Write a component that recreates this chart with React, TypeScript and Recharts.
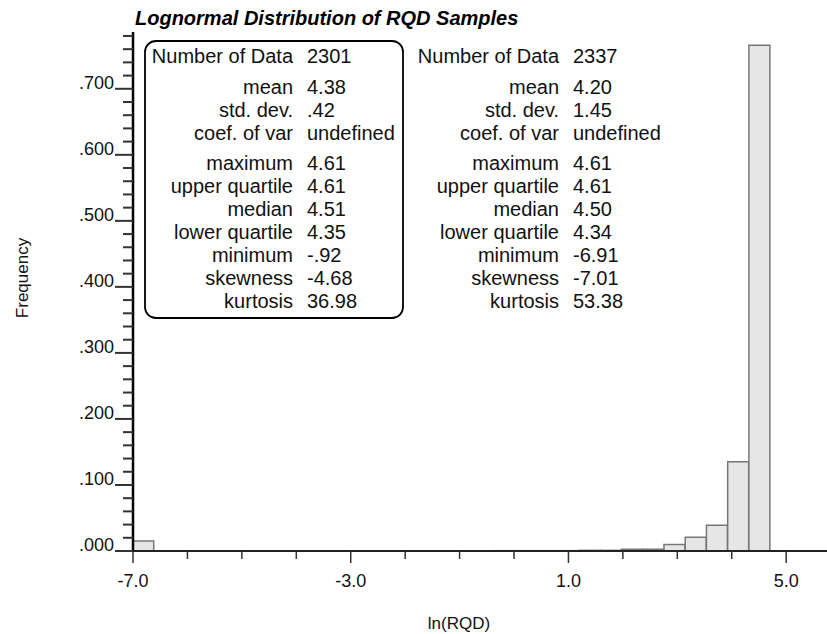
import React from "react";
import { BarChart, Bar, XAxis, YAxis } from "recharts";

// histogram bins of ln(RQD), width 0.39
const binCenters = [
  -6.81, -6.42, -6.03, -5.64, -5.25, -4.86, -4.47, -4.08, -3.69, -3.3,
  -2.91, -2.52, -2.13, -1.74, -1.35, -0.96, -0.57, -0.18, 0.21, 0.6,
  1.0, 1.39, 1.78, 2.17, 2.56, 2.95, 3.34, 3.73, 4.12, 4.51,
];
const frequency = [
  0.015, 0, 0, 0, 0, 0, 0, 0, 0, 0,
  0, 0, 0, 0, 0, 0, 0, 0.0005, 0.0005, 0.0005,
  0.0005, 0.001, 0.001, 0.0025, 0.0025, 0.01, 0.021, 0.039, 0.135, 0.766,
];

const xTicks = [-7, -6, -5, -4, -3, -2, -1, 0, 1, 2, 3, 4, 5];
const xMajorTicks = [-7, -3, 1, 5];
const xMajorLabels = ["-7.0", "-3.0", "1.0", "5.0"];
const yMajorLabels = [".000", ".100", ".200", ".300", ".400", ".500", ".600", ".700"];

const statLabels = [
  "Number of Data", "mean", "std. dev.", "coef. of var", "maximum",
  "upper quartile", "median", "lower quartile", "minimum", "skewness", "kurtosis",
];
const statsLeft = ["2301", "4.38", ".42", "undefined", "4.61", "4.61", "4.51", "4.35", "-.92", "-4.68", "36.98"];
const statsRight = ["2337", "4.20", "1.45", "undefined", "4.61", "4.61", "4.50", "4.34", "-6.91", "-7.01", "53.38"];

const data = binCenters.map((c, i) => ({ x: c, f: frequency[i] }));

const FONT = "'Liberation Sans', Arial, Helvetica, sans-serif";
const AXIS_X = 133;
const BASE_Y = 551;
const rowY = [63, 94, 117, 140, 170, 193, 216, 239, 262, 285, 308];

// minor ticks every .020
const yTicks = Array.from({ length: 40 }, (_, i) => (i * 2) / 100);

const YTick = (props: any) => {
  const { y, index } = props;
  const major = index % 5 === 0 && index / 5 < yMajorLabels.length;
  return (
    <g>
      <line x1={AXIS_X - (major ? 18 : 10)} x2={AXIS_X} y1={y} y2={y} stroke="#333" strokeWidth={2} />
      {major && (
        <text x={114} y={y} textAnchor="end" fontSize={18} fontFamily={FONT} fill="#111">
          {yMajorLabels[index / 5]}
        </text>
      )}
    </g>
  );
};

const XTick = (props: any) => {
  const { x, payload } = props;
  const k = xMajorTicks.indexOf(payload.value);
  const major = k >= 0;
  return (
    <g>
      <line x1={x} x2={x} y1={BASE_Y} y2={BASE_Y + (major ? 12 : 8)} stroke="#333" strokeWidth={1.5} />
      {major && (
        <text x={x} y={BASE_Y + 36} textAnchor="middle" fontSize={18} fontFamily={FONT} fill="#111">
          {xMajorLabels[k]}
        </text>
      )}
    </g>
  );
};

const StatColumn = ({ labelX, values }: { labelX: number; values: string[] }) => (
  <g fontFamily={FONT} fontSize={20} fill="#111">
    {statLabels.map((l, i) => (
      <React.Fragment key={l}>
        <text x={labelX} y={rowY[i]} textAnchor="end">{l}</text>
        <text x={labelX + 14} y={rowY[i]}>{values[i]}</text>
      </React.Fragment>
    ))}
  </g>
);

export default function App() {
  return (
    <div style={{ position: "absolute", left: 0, top: 0, width: 827, height: 634, background: "#fff" }}>
      <BarChart
        width={827}
        height={634}
        data={data}
        margin={{ top: 32, right: 0, left: 0, bottom: 43 }}
        barCategoryGap={0}
        barGap={0}
      >
        <XAxis
          dataKey="x"
          type="number"
          domain={[-7, 5.75]}
          allowDataOverflow
          ticks={xTicks}
          interval={0}
          height={40}
          tickLine={false}
          axisLine={{ stroke: "#222", strokeWidth: 2 }}
          tick={<XTick />}
        />
        <YAxis
          type="number"
          domain={[0, 0.786]}
          allowDataOverflow
          ticks={yTicks}
          interval={0}
          width={AXIS_X}
          tickLine={false}
          axisLine={{ stroke: "#000", strokeWidth: 2.5 }}
          tick={<YTick />}
        />
        <Bar
          dataKey="f"
          barSize={21}
          fill="#e6e6e6"
          stroke="#777"
          strokeWidth={1.5}
          isAnimationActive={false}
        />
      </BarChart>
      <svg width={827} height={634} style={{ position: "absolute", left: 0, top: 0, pointerEvents: "none" }}>
        <text x={135} y={25} fontFamily={FONT} fontSize={20} fontWeight="bold" fontStyle="italic" fill="#000">
          Lognormal Distribution of RQD Samples
        </text>
        <rect x={145} y={41} width={258} height={277} rx={11} ry={11} fill="none" stroke="#000" strokeWidth={1.8} />
        <StatColumn labelX={293} values={statsLeft} />
        <StatColumn labelX={559} values={statsRight} />
        <text
          transform="translate(28,278) rotate(-90)"
          textAnchor="middle"
          fontFamily={FONT}
          fontSize={17}
          fill="#111"
        >
          Frequency
        </text>
        <text x={459} y={629} textAnchor="middle" fontFamily={FONT} fontSize={17} fill="#111">
          ln(RQD)
        </text>
      </svg>
    </div>
  );
}
